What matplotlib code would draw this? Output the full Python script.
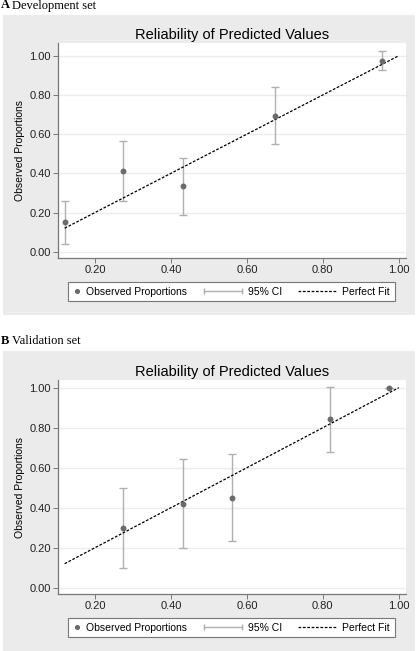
import numpy as np
import matplotlib
matplotlib.use("Agg")
import matplotlib.pyplot as plt
from matplotlib.patches import Rectangle
from matplotlib.lines import Line2D
from matplotlib.legend_handler import HandlerLine2D

# ── Data ──────────────────────────────────────────────────────────────

dev_pred = [0.12, 0.275, 0.433, 0.675, 0.957]
dev_obs = [0.15, 0.41, 0.335, 0.692, 0.975]
dev_lo = [0.04, 0.26, 0.187, 0.548, 0.927]
dev_hi = [0.26, 0.565, 0.48, 0.838, 1.023]

val_pred = [0.275, 0.433, 0.56, 0.818, 0.973]
val_obs = [0.30, 0.42, 0.45, 0.843, 1.0]
val_lo = [0.10, 0.20, 0.233, 0.678, 1.0]
val_hi = [0.50, 0.643, 0.668, 1.005, 1.0]

fit_x = [0.12, 1.00]
x_ticks = [0.2, 0.4, 0.6, 0.8, 1.0]
y_ticks = [0.0, 0.2, 0.4, 0.6, 0.8, 1.0]

W, H = 416, 651
BG = "#ebebeb"
DASH = (0, (2.2, 1.3))
plt.rcParams["font.family"] = ["Liberation Sans", "DejaVu Sans"]

fig = plt.figure(figsize=(W / 100, H / 100), dpi=100)
fig.patch.set_facecolor("white")


class LeftReachHandler(HandlerLine2D):
    """Legend key whose line reaches further left than the handle box."""

    def __init__(self, reach, **kw):
        super().__init__(**kw)
        self.reach = reach

    def get_xdata(self, legend, xdescent, ydescent, width, height, fontsize):
        x1 = -xdescent + width
        x0 = x1 - self.reach * fontsize
        return [x0, x1], [x0, x1]


def px_box(x0, y0, x1, y1):
    """pixel box (top-left origin) -> figure fraction rect"""
    return [x0 / W, 1 - y1 / H, (x1 - x0) / W, (y1 - y0) / H]


def draw_panel(bg_box, ax_box, ylim, leg_center, pred, obs, lo, hi,
               letter, name, label_y):
    fig.patches.append(Rectangle((bg_box[0], bg_box[1]), bg_box[2], bg_box[3],
                                 transform=fig.transFigure, facecolor=BG,
                                 edgecolor="none", zorder=-1))
    fig.text(1 / W, 1 - label_y / H, letter, fontsize=9, fontweight="bold",
             family="Liberation Serif", va="center", ha="left")
    fig.text(11.5 / W, 1 - label_y / H, name, fontsize=9,
             family="Liberation Serif", va="center", ha="left")

    ax = fig.add_axes(ax_box)
    ax.set_facecolor("white")
    pred = np.array(pred)
    obs = np.array(obs)
    err = [obs - np.array(lo), np.array(hi) - obs]

    ax.errorbar(pred, obs, yerr=err, fmt="none", ecolor="#b0b0b0",
                elinewidth=1.0, capsize=2.8, capthick=1.0, zorder=2)
    ax.plot(fit_x, fit_x, color="black", linestyle=DASH,
            linewidth=0.9, zorder=3)
    ax.scatter(pred, obs, s=18, color="#6b6b6b", zorder=4, linewidths=0)

    ax.set_xlim(0.1025, 1.019)
    ax.set_ylim(*ylim)
    ax.set_xticks(x_ticks)
    ax.set_yticks(y_ticks)
    ax.set_xticklabels([f"{t:.2f}" for t in x_ticks])
    ax.set_yticklabels([f"{t:.2f}" for t in y_ticks])
    ax.tick_params(labelsize=8, length=3.5, width=0.7, color="#777777",
                   pad=1.5, labelcolor="#222222")
    ax.yaxis.grid(True, color="#ececec", linewidth=1.0)
    ax.set_axisbelow(True)
    for side in ["top", "right"]:
        ax.spines[side].set_visible(False)
    for side in ["left", "bottom"]:
        ax.spines[side].set_color("#777777")
        ax.spines[side].set_linewidth(0.9)
    ax.set_ylabel("Observed Proportions", fontsize=7.5, labelpad=3)
    ax.set_title("Reliability of Predicted Values", fontsize=10.5, pad=3)

    h_obs = Line2D([], [], linestyle="none", marker="o", markersize=3.7,
                   color="#6b6b6b", markeredgewidth=0)
    h_ci = Line2D([], [], color="#b0b0b0", linewidth=1.0, marker="|",
                  markersize=4, markeredgewidth=1.0)
    h_fit = Line2D([], [], color="black", linestyle=DASH, linewidth=0.9)
    leg = fig.legend([h_obs, h_ci, h_fit],
                     ["Observed Proportions", "95% CI", "Perfect Fit"],
                     handler_map={h_ci: LeftReachHandler(3.65, numpoints=2),
                                  h_fit: LeftReachHandler(3.65, numpoints=2)},
                     bbox_to_anchor=(leg_center[0] / W, 1 - leg_center[1] / H),
                     loc="center", ncol=3, fontsize=7.5, frameon=True,
                     fancybox=False, edgecolor="#777777", framealpha=1,
                     borderpad=0.45, handlelength=0.7, handletextpad=0.6,
                     columnspacing=4.5, borderaxespad=0)
    leg.get_frame().set_linewidth(0.8)
    return ax


draw_panel(px_box(3, 15, 415, 315), px_box(58, 43, 406, 258), (-0.032, 1.065),
           (231.5, 291.7),
           dev_pred, dev_obs, dev_lo, dev_hi, "A", "Development set", 5.5)

draw_panel(px_box(3, 351, 415, 651), px_box(58, 380, 406, 594), (-0.0315, 1.0385),
           (231.5, 627.7),
           val_pred, val_obs, val_lo, val_hi, "B", "Validation set", 340.7)

fig.savefig("out.png", dpi=100)
